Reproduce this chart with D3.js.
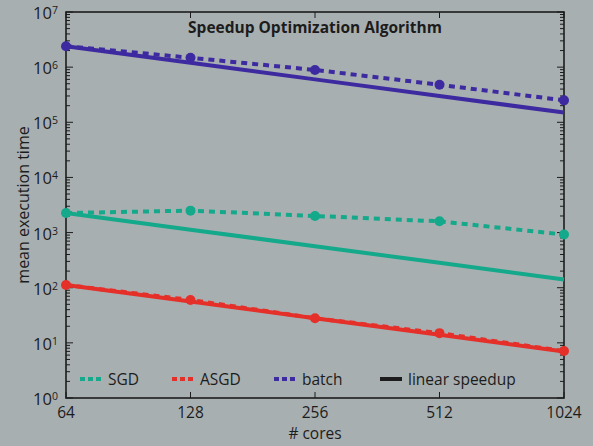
<!DOCTYPE html>
<html>
<head>
<meta charset="utf-8">
<script src="https://cdn.jsdelivr.net/npm/d3@7"></script>
<style>
  body { margin: 0; background: #a8afb1; }
  svg { font-family: "Open Sans", "Noto Sans", sans-serif; }
</style>
</head>
<body>
<script>
const cores = [64, 128, 256, 512, 1024]
const sgd = [2260, 2500, 2000, 1600, 920]
const asgd = [112, 60, 28, 15, 7.1]
const batch = [2400000, 1480000, 890000, 480000, 250000]
const yTicks = [0, 1, 2, 3, 4, 5, 6, 7]

const colors = {sgd: "#14a98a", asgd: "#e5302a", batch: "#3d2aa0"}
const ink = '#1c1c1c'

const width = 593
const height = 446
const margin = {top: 12, right: 29, bottom: 48, left: 66}

const svg = d3.select('body').append('svg')
  .attr('width', width)
  .attr('height', height)

const x = d3.scaleLog().base(2)
  .domain([64, 1024])
  .range([margin.left, width - margin.right])

const y = d3.scaleLog()
  .domain([1, 1e7])
  .range([height - margin.bottom, margin.top])

// minor ticks on left/right
const minor = []
for (let e = 0; e < 7; e++) for (let m = 2; m <= 9; m++) minor.push(m * Math.pow(10, e))

const axes = svg.append('g').attr('stroke', ink).attr('stroke-width', 1)
minor.forEach(v => {
  axes.append('line').attr('x1', x(64)).attr('x2', x(64) + 4).attr('y1', y(v)).attr('y2', y(v))
  axes.append('line').attr('x1', x(1024)).attr('x2', x(1024) - 4).attr('y1', y(v)).attr('y2', y(v))
})
yTicks.forEach(e => {
  const v = Math.pow(10, e)
  axes.append('line').attr('x1', x(64)).attr('x2', x(64) + 7).attr('y1', y(v)).attr('y2', y(v))
  axes.append('line').attr('x1', x(1024)).attr('x2', x(1024) - 7).attr('y1', y(v)).attr('y2', y(v))
})
cores.forEach(c => {
  axes.append('line').attr('x1', x(c)).attr('x2', x(c)).attr('y1', y(1)).attr('y2', y(1) - 6)
  axes.append('line').attr('x1', x(c)).attr('x2', x(c)).attr('y1', y(1e7)).attr('y2', y(1e7) + 6)
})
axes.append('rect')
  .attr('x', x(64)).attr('y', y(1e7))
  .attr('width', x(1024) - x(64)).attr('height', y(1) - y(1e7))
  .attr('fill', 'none').attr('stroke-width', 1.6)

// tick labels
const yLab = svg.append('g').attr('fill', ink).attr('font-size', 16.5)
yTicks.forEach(e => {
  const t = yLab.append('text')
    .attr('x', x(64) - 8).attr('y', y(Math.pow(10, e)) + 7)
    .attr('text-anchor', 'end')
  t.append('tspan').text('10')
  t.append('tspan').attr('font-size', 10.5).attr('dy', -5).text(e)
})
svg.append('g').selectAll('text')
  .data(cores)
  .join('text')
  .attr('x', d => x(d)).attr('y', y(1) + 20)
  .attr('text-anchor', 'middle')
  .attr('font-size', 15.5).attr('fill', ink)
  .text(d => d)

svg.append('text')
  .attr('x', (x(64) + x(1024)) / 2).attr('y', 439)
  .attr('text-anchor', 'middle').attr('font-size', 15.5).attr('fill', ink)
  .text('# cores')
svg.append('text')
  .attr('transform', `translate(29, ${(y(1) + y(1e7)) / 2}) rotate(-90)`)
  .attr('text-anchor', 'middle').attr('font-size', 16).attr('fill', ink)
  .text('mean execution time')
svg.append('text')
  .attr('x', 315).attr('y', 33)
  .attr('text-anchor', 'middle').attr('font-size', 15.5).attr('font-weight', 'bold')
  .attr('fill', ink)
  .text('Speedup Optimization Algorithm')

// series
const line = d3.line().x(d => x(d[0])).y(d => y(d[1]))
const series = [
  {key: 'sgd', values: sgd},
  {key: 'asgd', values: asgd},
  {key: 'batch', values: batch}
]
const plot = svg.append('g')
series.forEach(s => {
  const pts = cores.map((c, i) => [c, s.values[i]])
  const linear = cores.map(c => [c, s.values[0] * 64 / c])
  plot.append('path').attr('d', line(linear))
    .attr('fill', 'none').attr('stroke', colors[s.key]).attr('stroke-width', 4)
  plot.append('path').attr('d', line(pts))
    .attr('fill', 'none').attr('stroke', colors[s.key]).attr('stroke-width', 4)
    .attr('stroke-dasharray', '6,5')
  plot.selectAll(null).data(pts).join('circle')
    .attr('cx', d => x(d[0])).attr('cy', d => y(d[1])).attr('r', 5)
    .attr('fill', colors[s.key])
})

// legend
const legend = [
  {label: 'SGD', color: colors.sgd, dash: '5,3', x: 80},
  {label: 'ASGD', color: colors.asgd, dash: '5,3', x: 172},
  {label: 'batch', color: colors.batch, dash: '5,3', x: 274},
  {label: 'linear speedup', color: ink, dash: null, x: 380}
]
const lg = svg.append('g')
legend.forEach(l => {
  lg.append('line').attr('x1', l.x).attr('x2', l.x + 22).attr('y1', 379).attr('y2', 379)
    .attr('stroke', l.color).attr('stroke-width', 4)
    .attr('stroke-dasharray', l.dash)
  lg.append('text').attr('x', l.x + 28).attr('y', 385)
    .attr('font-size', 15.5).attr('fill', ink).text(l.label)
})
</script>
</body>
</html>
